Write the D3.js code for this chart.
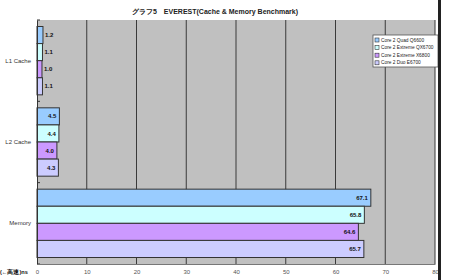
<!DOCTYPE html>
<html>
<head>
<meta charset="utf-8">
<script src="https://d3js.org/d3.v7.min.js"></script>
<style>
body {margin:0; background:white;}
svg {display:block; font-family:"Liberation Sans", Arial, sans-serif;}
</style>
</head>
<body>
<svg width="450" height="280"></svg>
<script>
var categories = ["L1 Cache", "L2 Cache", "Memory"];
var seriesNames = ["Core 2 Quad Q6600", "Core 2 Extreme QX6700", "Core 2 Extreme X6800", "Core 2 Duo E6700"];
var q6600 = [1.2, 4.5, 67.1];
var qx6700 = [1.1, 4.4, 65.8];
var x6800 = [1.0, 4.0, 64.6];
var e6700 = [1.1, 4.3, 65.7];
var xTicks = [0, 10, 20, 30, 40, 50, 60, 70, 80];
var colors = ["#99CCFF", "#CCFFFF", "#CC99FF", "#CCCCFF"];

var series = [q6600, qx6700, x6800, e6700];
var rows = [];
categories.forEach(function(c, i) {
  seriesNames.forEach(function(s, j) {
    rows.push({cat: c, name: s, value: series[j][i]});
  });
});

var plotLeft = 37, plotRight = 435, plotTop = 20, plotBottom = 264;
var svg = d3.select("svg");

var x = d3.scaleLinear().domain([0, 80]).range([plotLeft, plotRight]);
var y = d3.scaleBand().domain(categories).range([plotTop, plotBottom]);
var yIn = d3.scaleBand().domain(seriesNames).range([0, y.bandwidth()]).paddingOuter(0.38);
var color = d3.scaleOrdinal().domain(seriesNames).range(colors);

// plot background
svg.append("rect")
  .attr("x", plotLeft).attr("y", plotTop)
  .attr("width", plotRight - plotLeft).attr("height", plotBottom - plotTop)
  .attr("fill", "#C0C0C0");

// grid lines
svg.append("g")
  .selectAll("line")
  .data(xTicks.slice(1))
  .enter()
  .append("line")
  .attr("x1", function(d) { return x(d); })
  .attr("x2", function(d) { return x(d); })
  .attr("y1", plotTop).attr("y2", plotBottom)
  .attr("stroke", "#3a3a3a")
  .attr("stroke-width", 1);

// bars
svg.append("g")
  .selectAll("rect")
  .data(rows)
  .enter()
  .append("rect")
  .attr("x", x(0))
  .attr("y", function(d) { return y(d.cat) + yIn(d.name); })
  .attr("width", function(d) { return x(d.value) - x(0); })
  .attr("height", yIn.bandwidth())
  .attr("fill", function(d) { return color(d.name); })
  .attr("stroke", "#333")
  .attr("stroke-width", 1);

// value labels
svg.append("g")
  .selectAll("text")
  .data(rows)
  .enter()
  .append("text")
  .attr("x", function(d) {
    var w = x(d.value) - x(0);
    return w < 15 ? x(d.value) + 2 : x(d.value) - 3;
  })
  .attr("y", function(d) { return y(d.cat) + yIn(d.name) + yIn.bandwidth() / 2; })
  .attr("dy", "0.35em")
  .attr("text-anchor", function(d) { return (x(d.value) - x(0)) < 15 ? "start" : "end"; })
  .style("font-size", "6px")
  .style("font-weight", "bold")
  .attr("fill", "#111")
  .text(function(d) { return d.value.toFixed(1); });

// left axis
var yAxis = d3.axisLeft(y).tickSize(0).tickPadding(6);
var gy = svg.append("g")
  .attr("transform", "translate(" + plotLeft + ",0)")
  .call(yAxis);
gy.select(".domain").attr("stroke", "#333");
gy.selectAll("text").style("font-size", "6px").attr("fill", "#333");
gy.selectAll(".bnd")
  .data([plotTop, y("L2 Cache"), y("Memory"), plotBottom])
  .enter()
  .append("line")
  .attr("x1", 0).attr("x2", 3)
  .attr("y1", function(d) { return d; }).attr("y2", function(d) { return d; })
  .attr("stroke", "#333");

// bottom axis
var xAxis = d3.axisBottom(x).tickValues(xTicks).tickSize(0).tickPadding(6);
var gx = svg.append("g")
  .attr("transform", "translate(0," + plotBottom + ")")
  .call(xAxis);
gx.select(".domain").attr("stroke", "#777");
gx.selectAll("text").style("font-size", "6px").attr("fill", "#555");

svg.append("text")
  .attr("x", 0).attr("y", 274)
  .style("font-size", "5.6px")
  .style("font-weight", "bold")
  .attr("fill", "#111")
  .text("(←高速)ns");

// title
svg.append("text")
  .attr("x", 215).attr("y", 14)
  .attr("text-anchor", "middle")
  .style("font-size", "7px")
  .style("font-weight", "bold")
  .attr("fill", "#222")
  .text("グラフ5　EVEREST(Cache & Memory Benchmark)");

// legend
var lg = svg.append("g").attr("transform", "translate(373,35)");
lg.append("rect")
  .attr("width", 65).attr("height", 32)
  .attr("fill", "white")
  .attr("stroke", "#555").attr("stroke-width", 0.8);
var item = lg.selectAll(".item")
  .data(seriesNames)
  .enter()
  .append("g")
  .attr("transform", function(d, i) { return "translate(2," + (5 + i * 7.6) + ")"; });
item.append("rect")
  .attr("x", 0).attr("y", -2)
  .attr("width", 4).attr("height", 4)
  .attr("fill", function(d) { return color(d); })
  .attr("stroke", "#333").attr("stroke-width", 0.6);
item.append("text")
  .attr("x", 6).attr("y", 0)
  .attr("dy", "0.35em")
  .style("font-size", "4.8px")
  .attr("fill", "#222")
  .text(function(d) { return d; });

// right edge line
svg.append("rect")
  .attr("x", 438).attr("y", 0)
  .attr("width", 3).attr("height", 280)
  .attr("fill", "#222");
</script>
</body>
</html>
